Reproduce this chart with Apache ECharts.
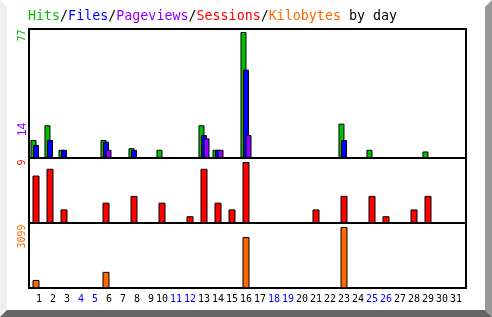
<!DOCTYPE html>
<html><head><meta charset="utf-8">
<script src="https://cdn.jsdelivr.net/npm/echarts@6/dist/echarts.min.js"></script>
<style>html,body{margin:0;padding:0;background:#fff}#c{width:492px;height:317px}</style>
</head><body><div id="c"></div>
<script>
const days = ['1','2','3','4','5','6','7','8','9','10','11','12','13','14','15','16','17','18','19','20','21','22','23','24','25','26','27','28','29','30','31'];
const weekendDays = [4,5,11,12,18,19,25,26];
const hits      = [11,20,5,0,0,11,0,6,0,5,0,0,20,5,0,77,0,0,0,0,0,0,21,0,5,0,0,0,4,0,0];
const files     = [8,11,5,0,0,10,0,5,0,0,0,0,14,5,0,54,0,0,0,0,0,0,11,0,0,0,0,0,0,0,0];
const pageviews = [0,0,0,0,0,5,0,0,0,0,0,0,12,5,0,14,0,0,0,0,0,0,0,0,0,0,0,0,0,0,0];
const sessions  = [7,8,2,0,0,3,0,4,0,3,0,1,8,3,2,9,0,0,0,0,2,0,4,0,4,1,0,2,4,0,0];
const kilobytes = [410,0,0,0,0,820,0,0,0,0,0,0,0,0,0,2590,0,0,0,0,0,0,3099,0,0,0,0,0,0,0,0];

const COL = {hits:'#00c000', files:'#0000ff', pages:'#9000ff', sessions:'#ff0000', kbytes:'#ff6600'};
const MONO = '"DejaVu Sans Mono", monospace';
const nz = a => a.map(v => v === 0 ? '-' : v);
const maxOf = a => Math.max.apply(null, a);

const chart = echarts.init(document.getElementById('c'), null, {renderer:'canvas'});

function xAx(i, show){
  return {type:'category', gridIndex:i, data:days, boundaryGap:true,
    axisLine:{show:false}, axisTick:{show:false}, splitLine:{show:false},
    axisLabel: show ? {show:true, interval:0, margin:6, fontFamily:MONO, fontSize:10,
      formatter: v => (v.length < 2 ? ' ' + v : v),
      color: (v) => weekendDays.indexOf(+v) >= 0 ? '#0000ff' : '#000000'} : {show:false}};
}
function yAx(i){
  return {type:'value', gridIndex:i, min:0, max:'dataMax', show:false, splitLine:{show:false}};
}
const barStyle = c => ({color:c, borderColor:'#000', borderWidth:1});

const rotLabel = (id, text, color, x, y, align) => ({
  type:'text', id:id, x:x, y:y, rotation:Math.PI/2, z:100,
  style:{text:text, fill:color, font:'10px ' + MONO, align:align, verticalAlign:'middle'}
});

const graphics = [
  {type:'polygon', z:0, shape:{points:[[0,0],[7,7],[7,310],[0,317]]}, style:{fill:'#efefef'}},
  {type:'polygon', z:0, shape:{points:[[492,0],[485,7],[485,310],[492,317]]}, style:{fill:'#999999'}},
  {type:'polygon', z:0, shape:{points:[[0,317],[7,310],[485,310],[492,317]]}, style:{fill:'#666666'}},
  {type:'rect', z:50, shape:{x:29, y:29, width:437, height:259}, style:{fill:null, stroke:'#000', lineWidth:2}},
  {type:'line', z:50, shape:{x1:29, y1:158, x2:466, y2:158}, style:{stroke:'#000', lineWidth:2}},
  {type:'line', z:50, shape:{x1:29, y1:223, x2:466, y2:223}, style:{stroke:'#000', lineWidth:2}},
  {type:'text', z:100, x:28, y:17, style:{
    text:'{h|Hits}{k|/}{f|Files}{k|/}{p|Pageviews}{k|/}{s|Sessions}{k|/}{b|Kilobytes}{k| by day}',
    font:'13.33px ' + MONO, verticalAlign:'middle', align:'left',
    rich:{
      h:{fill:COL.hits, font:'13.33px ' + MONO},
      f:{fill:COL.files, font:'13.33px ' + MONO},
      p:{fill:COL.pages, font:'13.33px ' + MONO},
      s:{fill:COL.sessions, font:'13.33px ' + MONO},
      b:{fill:COL.kbytes, font:'13.33px ' + MONO},
      k:{fill:'#000', font:'13.33px ' + MONO}
    }}},
  rotLabel('lh', String(maxOf(hits)), COL.hits, 22.5, 29.5, 'right'),
  rotLabel('lp', String(maxOf(pageviews)), COL.pages, 22.5, 135, 'left'),
  rotLabel('ls', String(maxOf(sessions)), COL.sessions, 22.5, 159.5, 'right'),
  rotLabel('lk', String(maxOf(kilobytes)), COL.kbytes, 22.5, 224.5, 'right')
];

chart.setOption({
  animation:false,
  backgroundColor:'#ffffff',
  grid:[
    {left:29, top:32, width:434, height:126},
    {left:29, top:162, width:434, height:61},
    {left:29, top:227, width:434, height:61}
  ],
  xAxis:[xAx(0,false), xAx(1,false), xAx(2,true)],
  yAxis:[yAx(0), yAx(1), yAx(2)],
  series:[
    {type:'bar', name:'Hits', xAxisIndex:0, yAxisIndex:0, data:nz(hits), barWidth:6, barGap:'-58%', itemStyle:barStyle(COL.hits)},
    {type:'bar', name:'Files', xAxisIndex:0, yAxisIndex:0, data:nz(files), barWidth:6, barGap:'-58%', itemStyle:barStyle(COL.files)},
    {type:'bar', name:'Pageviews', xAxisIndex:0, yAxisIndex:0, data:nz(pageviews), barWidth:6, barGap:'-58%', itemStyle:barStyle(COL.pages)},
    {type:'bar', name:'Sessions', xAxisIndex:1, yAxisIndex:1, data:nz(sessions), barWidth:7, itemStyle:barStyle(COL.sessions)},
    {type:'bar', name:'Kilobytes', xAxisIndex:2, yAxisIndex:2, data:nz(kilobytes), barWidth:7, itemStyle:barStyle(COL.kbytes)}
  ],
  graphic:graphics
});

const py = chart.convertToPixel({yAxisIndex:0}, maxOf(pageviews));
chart.setOption({graphic:[{id:'lp', y:py + 1}]});
</script></body></html>
